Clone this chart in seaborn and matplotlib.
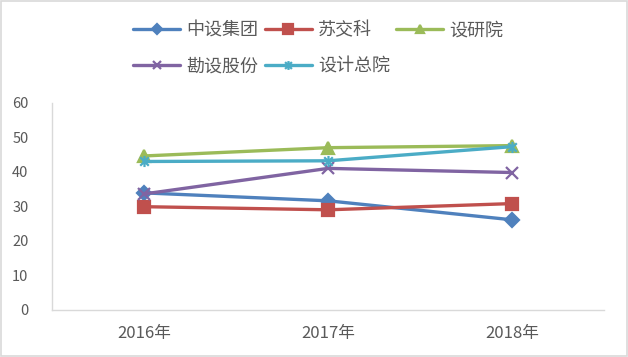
import pandas as pd
import numpy as np
import matplotlib
matplotlib.use('Agg')
import matplotlib.pyplot as plt
import seaborn as sns
from matplotlib.patches import Rectangle
from matplotlib.path import Path

# Chart data
years = ['2016年', '2017年', '2018年']
companies = ['中设集团', '苏交科', '设研院', '勘设股份', '设计总院']
zhongshe = [33.9, 31.6, 26.1]
sujiaoke = [29.9, 29.0, 30.8]
sheyanyuan = [44.6, 47.0, 47.6]
kanshe = [33.6, 41.0, 39.8]
shejizongyuan = [43.0, 43.2, 47.3]

sns.set_theme(style='white')
plt.rcParams['font.family'] = ['Noto Sans CJK SC', 'DejaVu Sans']

# Long-form table for seaborn
df = pd.DataFrame({
    'year': years * 5,
    'company': np.repeat(companies, 3),
    'value': zhongshe + sujiaoke + sheyanyuan + kanshe + shejizongyuan,
})

# Excel-style star marker: an x with a vertical bar
star = Path([(-1, -1), (1, 1), (-1, 1), (1, -1), (0, -1.3), (0, 1.3)],
            [Path.MOVETO, Path.LINETO, Path.MOVETO, Path.LINETO, Path.MOVETO, Path.LINETO])

colors = {'中设集团': '#4F81BD', '苏交科': '#C0504D', '设研院': '#9BBB59',
          '勘设股份': '#8064A2', '设计总院': '#4BACC6'}
markers = {'中设集团': 'D', '苏交科': 's', '设研院': '^',
           '勘设股份': 'x', '设计总院': star}
msizes = {'中设集团': 7, '苏交科': 9, '设研院': 8, '勘设股份': 8, '设计总院': 8}

fig = plt.figure(figsize=(6.28, 3.57), dpi=100)
ax = fig.add_axes([0.083, 0.132, 0.879, 0.58])

for c in companies:
    sub = df[df['company'] == c]
    sns.lineplot(data=sub, x='year', y='value', ax=ax, color=colors[c],
                 linewidth=2.4, marker=markers[c], markersize=msizes[c],
                 markeredgecolor=colors[c], markeredgewidth=1.6,
                 label=c, sort=False)

ax.set_xlim(-0.5, 2.5)
ax.set_ylim(0, 60)
ax.set_yticks(range(0, 61, 10))
ax.set_xlabel('')
ax.set_ylabel('')
for s in ['top', 'right']:
    ax.spines[s].set_visible(False)
for s in ['left', 'bottom']:
    ax.spines[s].set_color('#D9D9D9')
    ax.spines[s].set_linewidth(1.0)
ax.tick_params(axis='both', length=0, labelsize=10.5, labelcolor='#595959')
ax.tick_params(axis='x', labelsize=12, pad=11)
ax.tick_params(axis='y', pad=17)

# Legend: two rows, three columns (column-major ordering)
handles, labels = ax.get_legend_handles_labels()
ax.get_legend().remove()
order = [0, 3, 1, 4, 2]
fig.legend([handles[i] for i in order], [labels[i] for i in order],
           ncol=3, loc='upper left', bbox_to_anchor=(0.186, 0.985),
           frameon=False, fontsize=13, labelcolor='#595959', markerscale=0.8,
           handlelength=2.6, handletextpad=0.35, columnspacing=0.35,
           labelspacing=1.0)

# Light grey chart border
fig.patches.append(Rectangle((0.002, 0.003), 0.996, 0.994, transform=fig.transFigure,
                             fill=False, edgecolor='#D9D9D9', linewidth=1.2))

fig.savefig('out.png', dpi=100)
